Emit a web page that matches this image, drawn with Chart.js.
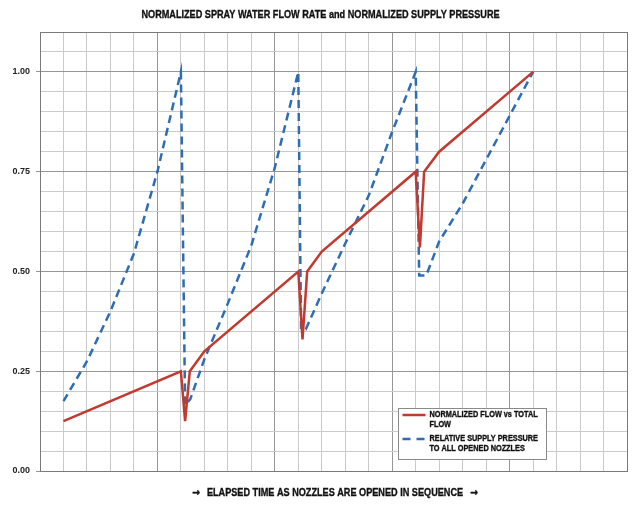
<!DOCTYPE html>
<html>
<head>
<meta charset="utf-8">
<script src="https://cdn.jsdelivr.net/npm/chart.js@4.4.1/dist/chart.umd.min.js"></script>
<style>
  html, body { margin: 0; padding: 0; background: #ffffff; }
  #wrap { width: 644px; height: 505px; position: relative; }
</style>
</head>
<body>
<div id="wrap"><canvas id="c" width="644" height="505"></canvas></div>
<script>
// ---- data ----
const chartTitle = 'NORMALIZED SPRAY WATER FLOW RATE and NORMALIZED SUPPLY PRESSURE';
const xAxisArrow = '\u2192';
const xAxisTitle = 'ELAPSED TIME AS NOZZLES ARE OPENED IN SEQUENCE';
const flowLabel = ['NORMALIZED FLOW vs TOTAL', 'FLOW'];
const pressureLabel = ['RELATIVE SUPPLY PRESSURE', 'TO ALL OPENED NOZZLES'];

const flowX = [1, 6, 6.18, 6.38, 7, 11, 11.18, 11.38, 12, 16, 16.18, 16.36, 17, 21];
const flowY = [0.125, 0.25, 0.125, 0.25, 0.30, 0.50, 0.33, 0.50, 0.55, 0.75, 0.56, 0.75, 0.80, 1.00];

const pressureX = [1, 2, 3, 4, 5, 6, 6.18, 6.4, 7, 8, 9, 10, 11, 11.12, 11.32, 12, 13, 14, 15, 16, 16.15, 16.45, 17, 18, 19, 20, 21];
const pressureY = [0.175, 0.275, 0.40, 0.545, 0.75, 1.00, 0.165, 0.18, 0.28, 0.42, 0.565, 0.76, 1.00, 0.355, 0.355, 0.445, 0.57, 0.69, 0.85, 1.00, 0.49, 0.49, 0.575, 0.67, 0.78, 0.89, 1.00];

const yTickLabels = ['0.00', '0.25', '0.50', '0.75', '1.00'];
const xMin = 0, xMax = 25, xStep = 1;
const yMin = 0, yMax = 1.1, yStep = 0.05;

// ---- styling ----
const RED = '#c1392f';
const BLUE = '#2e6db4';
const SANS = "'Liberation Sans', Arial, sans-serif";
const ARROWFONT = "'DejaVu Sans', sans-serif";
const MINOR = '#cbcbcb';
const MAJOR = '#969696';
const EDGE = '#7a7a7a';
const INK = '#111111';

function isMajorY(v) { return Math.abs(v * 4 - Math.round(v * 4)) < 1e-6; }

// draw text compressed horizontally (condensed look), slightly emboldened
function narrowText(ctx, text, x, y, align, sx) {
  ctx.save();
  ctx.translate(x, y);
  ctx.scale(sx, 1);
  ctx.textAlign = align;
  ctx.textBaseline = 'middle';
  ctx.fillText(text, 0, 0);
  ctx.lineWidth = 0.35;
  ctx.strokeStyle = ctx.fillStyle;
  ctx.strokeText(text, 0, 0);
  ctx.restore();
}

const textPlugin = {
  id: 'narrowTexts',
  afterDraw(chart) {
    const ctx = chart.ctx;
    const a = chart.chartArea;
    ctx.save();
    ctx.fillStyle = INK;
    ctx.font = 'bold 11px ' + SANS;
    narrowText(ctx, chartTitle, (a.left + a.right) / 2 - 13, 14.5, 'center', 0.83);

    // x-axis title with arrows
    const sx = 0.83;
    const w = ctx.measureText(xAxisTitle).width * sx;
    ctx.font = 'bold 11px ' + ARROWFONT;
    const aw = ctx.measureText(xAxisArrow).width * 0.85;
    const gap = 7;
    const total = aw * 2 + gap * 2 + w;
    const cx = (a.left + a.right) / 2 + 1.5;
    let x0 = cx - total / 2;
    const ty = 493;
    narrowText(ctx, xAxisArrow, x0, ty, 'left', 0.85);
    ctx.font = 'bold 11px ' + SANS;
    narrowText(ctx, xAxisTitle, x0 + aw + gap, ty, 'left', sx);
    ctx.font = 'bold 11px ' + ARROWFONT;
    narrowText(ctx, xAxisArrow, x0 + aw + gap * 2 + w, ty, 'left', 0.85);
    ctx.restore();
  }
};

const legendPlugin = {
  id: 'boxLegend',
  afterDatasetsDraw(chart) {
    const ctx = chart.ctx;
    const a = chart.chartArea;
    const bx = a.left + 358.5, by = a.top + 376.5, bw = 148, bh = 51;
    ctx.save();
    ctx.fillStyle = '#ffffff';
    ctx.fillRect(bx, by, bw, bh);
    ctx.strokeStyle = '#8a8a8a';
    ctx.lineWidth = 1;
    ctx.strokeRect(bx, by, bw, bh);
    ctx.font = 'bold 8.5px ' + SANS;
    ctx.fillStyle = INK;
    const items = [
      { lines: flowLabel, color: RED, dash: [], y: by + 6.5 },
      { lines: pressureLabel, color: BLUE, dash: [8, 6], y: by + 30.5 }
    ];
    items.forEach(it => {
      ctx.beginPath();
      ctx.setLineDash(it.dash);
      ctx.strokeStyle = it.color;
      ctx.lineWidth = 2.5;
      ctx.moveTo(bx + 4, it.y);
      ctx.lineTo(bx + 27, it.y);
      ctx.stroke();
      ctx.setLineDash([]);
      it.lines.forEach((t, i) => narrowText(ctx, t, bx + 31, it.y + i * 9.6, 'left', 0.86));
    });
    ctx.restore();
  }
};

const toPts = (xs, ys) => xs.map((x, i) => ({ x: x, y: ys[i] }));

new Chart(document.getElementById('c'), {
  type: 'line',
  data: {
    datasets: [
      {
        label: flowLabel.join(' '),
        data: toPts(flowX, flowY),
        borderColor: RED,
        borderWidth: 2.5,
        pointRadius: 0,
        tension: 0,
        fill: false
      },
      {
        label: pressureLabel.join(' '),
        data: toPts(pressureX, pressureY),
        borderColor: BLUE,
        borderWidth: 2.5,
        borderDash: [8, 5],
        pointRadius: 0,
        tension: 0,
        fill: false
      }
    ]
  },
  options: {
    responsive: false,
    animation: false,
    layout: { padding: { left: 0, right: 17, top: 32, bottom: 0 } },
    plugins: {
      legend: { display: false },
      tooltip: { enabled: false },
      title: { display: false }
    },
    scales: {
      x: {
        type: 'linear',
        min: xMin, max: xMax,
        afterFit(s) { s.height = 34; },
        ticks: { stepSize: xStep, display: false },
        grid: {
          drawTicks: false,
          lineWidth: 1,
          color: c => (c.tick.value % 5 === 0) ? (c.tick.value === xMax ? EDGE : MAJOR) : MINOR
        },
        border: { display: true, color: EDGE, width: 1 },
        title: { display: false }
      },
      y: {
        type: 'linear',
        min: yMin, max: yMax,
        afterFit(s) { s.width = 40; },
        ticks: {
          stepSize: yStep,
          padding: 6,
          color: '#222',
          font: { family: SANS, size: 9, weight: 'bold' },
          callback: v => {
            if (!isMajorY(v)) return '';
            const idx = Math.round(v * 4);
            return yTickLabels[idx] !== undefined ? yTickLabels[idx] : '';
          }
        },
        grid: {
          drawTicks: true,
          tickLength: 4,
          lineWidth: 1,
          tickColor: c => isMajorY(c.tick.value) ? MAJOR : 'rgba(0,0,0,0)',
          color: c => {
            const v = c.tick.value;
            if (Math.abs(v - yMax) < 1e-6) return EDGE;
            return isMajorY(v) ? MAJOR : MINOR;
          }
        },
        border: { display: true, color: EDGE, width: 1 }
      }
    }
  },
  plugins: [legendPlugin, textPlugin]
});
</script>
</body>
</html>
